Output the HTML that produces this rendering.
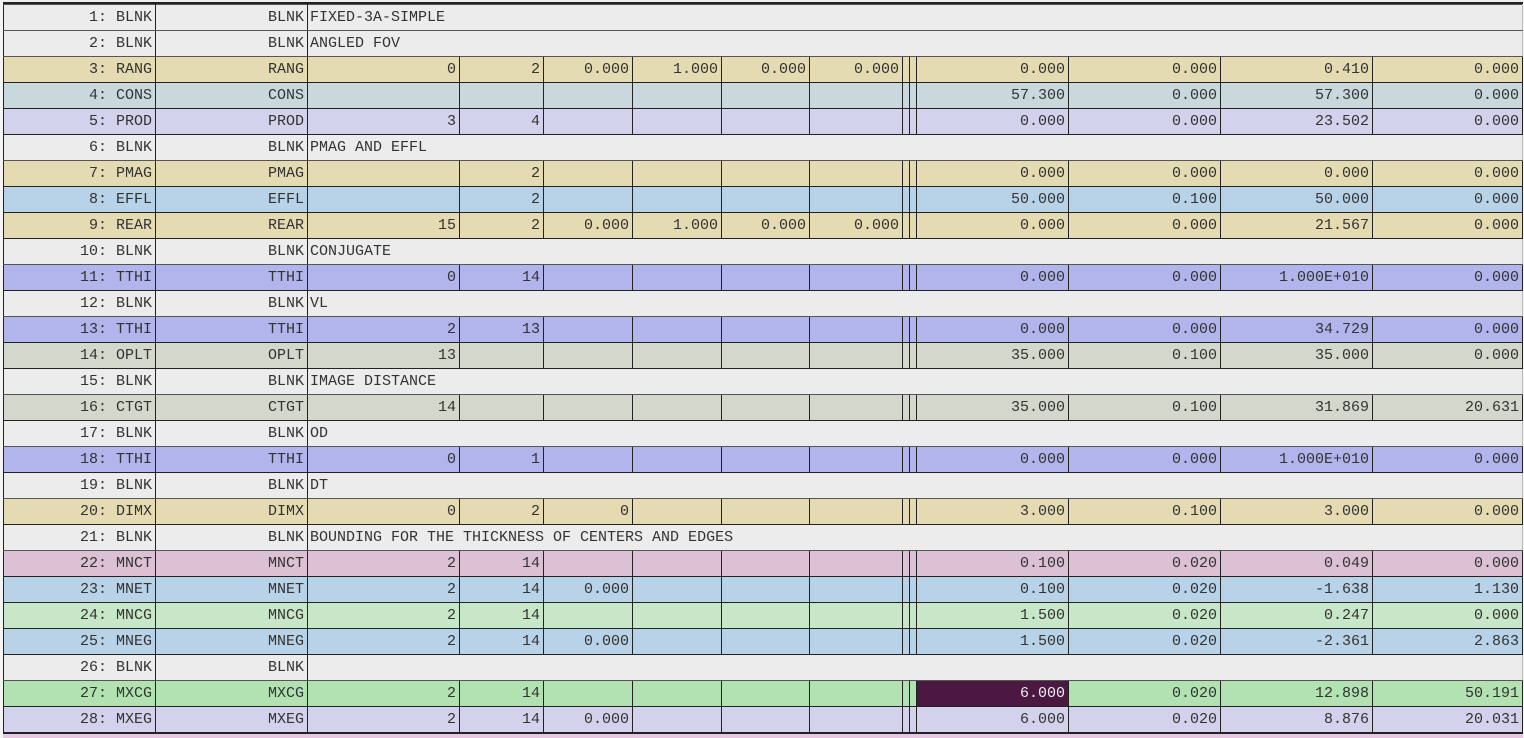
<!DOCTYPE html>
<html><head><meta charset="utf-8"><style>
body{margin:0;width:1524px;height:737px;overflow:hidden;background:#f4f4f4;position:relative;font-family:"Liberation Mono",monospace;}
.top{position:absolute;left:3px;top:0;width:1520px;height:4px;background:#eee;border-bottom:2px solid #222;box-sizing:border-box}
.bot{position:absolute;left:3px;top:733px;width:1520px;height:4px;background:#e8c8e0;border-top:1px solid #222;}
table{position:absolute;left:3px;top:4px;border-collapse:collapse;table-layout:fixed;width:1520px;font-size:15px;color:#333}
tr{height:26px}
td{border:1px solid #222;height:26px;padding:0 3px 0 0;text-align:right;white-space:nowrap;overflow:hidden;box-sizing:border-box;line-height:24px}
td.c{text-align:left;padding-left:2px;border-right:1px solid #bbb}
tr.b td{background:#ececec}
tr.b td{border-top-color:#555;border-bottom-color:#555}
tr.t td{background:#e4dbb2}
tr.cn td{background:#c8d8dc}
tr.p td{background:#d2d2ec}
tr.e td{background:#b8d2e8}
tr.h td{background:#b2b4ec}
tr.o td{background:#d4d8cc}
tr.k td{background:#dcc0d4}
tr.g td{background:#c8e6c8}
tr.x td{background:#b2e2b2}
td.sel{background:#4a1840 !important;color:#eee}
</style></head><body>
<div class="top"></div>
<table>
<colgroup><col style="width:152px"><col style="width:152px"><col style="width:152px"><col style="width:84px"><col style="width:89px"><col style="width:89px"><col style="width:88px"><col style="width:93px"><col style="width:7px"><col style="width:7px"><col style="width:152px"><col style="width:152px"><col style="width:152px"><col style="width:150px"></colgroup>
<tr class="b"><td>1: BLNK</td><td>BLNK</td><td class="c" colspan="12">FIXED-3A-SIMPLE</td></tr>
<tr class="b"><td>2: BLNK</td><td>BLNK</td><td class="c" colspan="12">ANGLED FOV</td></tr>
<tr class="t"><td>3: RANG</td><td>RANG</td><td>0</td><td>2</td><td>0.000</td><td>1.000</td><td>0.000</td><td>0.000</td><td></td><td></td><td>0.000</td><td>0.000</td><td>0.410</td><td>0.000</td></tr>
<tr class="cn"><td>4: CONS</td><td>CONS</td><td></td><td></td><td></td><td></td><td></td><td></td><td></td><td></td><td>57.300</td><td>0.000</td><td>57.300</td><td>0.000</td></tr>
<tr class="p"><td>5: PROD</td><td>PROD</td><td>3</td><td>4</td><td></td><td></td><td></td><td></td><td></td><td></td><td>0.000</td><td>0.000</td><td>23.502</td><td>0.000</td></tr>
<tr class="b"><td>6: BLNK</td><td>BLNK</td><td class="c" colspan="12">PMAG AND EFFL</td></tr>
<tr class="t"><td>7: PMAG</td><td>PMAG</td><td></td><td>2</td><td></td><td></td><td></td><td></td><td></td><td></td><td>0.000</td><td>0.000</td><td>0.000</td><td>0.000</td></tr>
<tr class="e"><td>8: EFFL</td><td>EFFL</td><td></td><td>2</td><td></td><td></td><td></td><td></td><td></td><td></td><td>50.000</td><td>0.100</td><td>50.000</td><td>0.000</td></tr>
<tr class="t"><td>9: REAR</td><td>REAR</td><td>15</td><td>2</td><td>0.000</td><td>1.000</td><td>0.000</td><td>0.000</td><td></td><td></td><td>0.000</td><td>0.000</td><td>21.567</td><td>0.000</td></tr>
<tr class="b"><td>10: BLNK</td><td>BLNK</td><td class="c" colspan="12">CONJUGATE</td></tr>
<tr class="h"><td>11: TTHI</td><td>TTHI</td><td>0</td><td>14</td><td></td><td></td><td></td><td></td><td></td><td></td><td>0.000</td><td>0.000</td><td>1.000E+010</td><td>0.000</td></tr>
<tr class="b"><td>12: BLNK</td><td>BLNK</td><td class="c" colspan="12">VL</td></tr>
<tr class="h"><td>13: TTHI</td><td>TTHI</td><td>2</td><td>13</td><td></td><td></td><td></td><td></td><td></td><td></td><td>0.000</td><td>0.000</td><td>34.729</td><td>0.000</td></tr>
<tr class="o"><td>14: OPLT</td><td>OPLT</td><td>13</td><td></td><td></td><td></td><td></td><td></td><td></td><td></td><td>35.000</td><td>0.100</td><td>35.000</td><td>0.000</td></tr>
<tr class="b"><td>15: BLNK</td><td>BLNK</td><td class="c" colspan="12">IMAGE DISTANCE</td></tr>
<tr class="o"><td>16: CTGT</td><td>CTGT</td><td>14</td><td></td><td></td><td></td><td></td><td></td><td></td><td></td><td>35.000</td><td>0.100</td><td>31.869</td><td>20.631</td></tr>
<tr class="b"><td>17: BLNK</td><td>BLNK</td><td class="c" colspan="12">OD</td></tr>
<tr class="h"><td>18: TTHI</td><td>TTHI</td><td>0</td><td>1</td><td></td><td></td><td></td><td></td><td></td><td></td><td>0.000</td><td>0.000</td><td>1.000E+010</td><td>0.000</td></tr>
<tr class="b"><td>19: BLNK</td><td>BLNK</td><td class="c" colspan="12">DT</td></tr>
<tr class="t"><td>20: DIMX</td><td>DIMX</td><td>0</td><td>2</td><td>0</td><td></td><td></td><td></td><td></td><td></td><td>3.000</td><td>0.100</td><td>3.000</td><td>0.000</td></tr>
<tr class="b"><td>21: BLNK</td><td>BLNK</td><td class="c" colspan="12">BOUNDING FOR THE THICKNESS OF CENTERS AND EDGES</td></tr>
<tr class="k"><td>22: MNCT</td><td>MNCT</td><td>2</td><td>14</td><td></td><td></td><td></td><td></td><td></td><td></td><td>0.100</td><td>0.020</td><td>0.049</td><td>0.000</td></tr>
<tr class="e"><td>23: MNET</td><td>MNET</td><td>2</td><td>14</td><td>0.000</td><td></td><td></td><td></td><td></td><td></td><td>0.100</td><td>0.020</td><td>-1.638</td><td>1.130</td></tr>
<tr class="g"><td>24: MNCG</td><td>MNCG</td><td>2</td><td>14</td><td></td><td></td><td></td><td></td><td></td><td></td><td>1.500</td><td>0.020</td><td>0.247</td><td>0.000</td></tr>
<tr class="e"><td>25: MNEG</td><td>MNEG</td><td>2</td><td>14</td><td>0.000</td><td></td><td></td><td></td><td></td><td></td><td>1.500</td><td>0.020</td><td>-2.361</td><td>2.863</td></tr>
<tr class="b"><td>26: BLNK</td><td>BLNK</td><td class="c" colspan="12"></td></tr>
<tr class="x"><td>27: MXCG</td><td>MXCG</td><td>2</td><td>14</td><td></td><td></td><td></td><td></td><td></td><td></td><td class="sel">6.000</td><td>0.020</td><td>12.898</td><td>50.191</td></tr>
<tr class="p"><td>28: MXEG</td><td>MXEG</td><td>2</td><td>14</td><td>0.000</td><td></td><td></td><td></td><td></td><td></td><td>6.000</td><td>0.020</td><td>8.876</td><td>20.031</td></tr>
</table>
<div class="bot"></div>
</body></html>
